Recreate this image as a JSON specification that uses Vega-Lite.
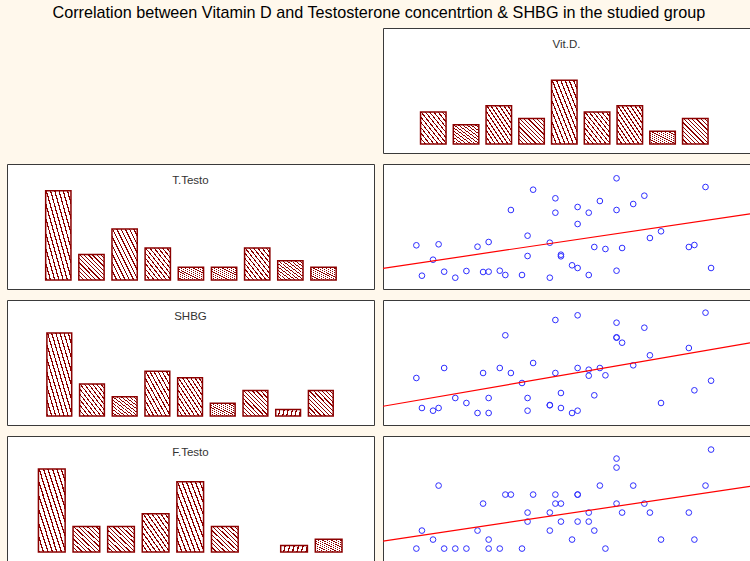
{
  "$schema": "https://vega.github.io/schema/vega-lite/v6.json",
  "background": "#FFF8EC",
  "padding": {"left": 6, "top": 5, "right": 0, "bottom": 0},
  "title": {"text": "Correlation between Vitamin D and Testosterone concentrtion & SHBG in the studied group", "fontSize": 16.2, "font": "Liberation Sans", "fontWeight": "normal", "color": "#000000", "anchor": "start", "dx": 46, "offset": 6, "baseline": "top"},
  "config": {
    "view": {"fill": "white", "stroke": "#3a3a3a", "strokeWidth": 1},
    "title": {"font": "Liberation Sans", "fontSize": 11.5, "fontWeight": "normal", "color": "#333333", "baseline": "middle", "offset": -22, "anchor": "middle"},
    "bar": {"stroke": "#8B0000", "strokeWidth": 1.5, "fill": {"gradient": "linear", "x1": 0, "y1": 1, "x2": 1, "y2": 0, "stops": [
      {"offset": 0, "color": "#8B0000"}, {"offset": 0.025, "color": "#8B0000"}, {"offset": 0.025, "color": "#ffffff"}, {"offset": 0.0833, "color": "#ffffff"},
      {"offset": 0.0833, "color": "#8B0000"}, {"offset": 0.1083, "color": "#8B0000"}, {"offset": 0.1083, "color": "#ffffff"}, {"offset": 0.1667, "color": "#ffffff"},
      {"offset": 0.1667, "color": "#8B0000"}, {"offset": 0.1917, "color": "#8B0000"}, {"offset": 0.1917, "color": "#ffffff"}, {"offset": 0.25, "color": "#ffffff"},
      {"offset": 0.25, "color": "#8B0000"}, {"offset": 0.275, "color": "#8B0000"}, {"offset": 0.275, "color": "#ffffff"}, {"offset": 0.3333, "color": "#ffffff"},
      {"offset": 0.3333, "color": "#8B0000"}, {"offset": 0.3583, "color": "#8B0000"}, {"offset": 0.3583, "color": "#ffffff"}, {"offset": 0.4167, "color": "#ffffff"},
      {"offset": 0.4167, "color": "#8B0000"}, {"offset": 0.4417, "color": "#8B0000"}, {"offset": 0.4417, "color": "#ffffff"}, {"offset": 0.5, "color": "#ffffff"},
      {"offset": 0.5, "color": "#8B0000"}, {"offset": 0.525, "color": "#8B0000"}, {"offset": 0.525, "color": "#ffffff"}, {"offset": 0.5833, "color": "#ffffff"},
      {"offset": 0.5833, "color": "#8B0000"}, {"offset": 0.6083, "color": "#8B0000"}, {"offset": 0.6083, "color": "#ffffff"}, {"offset": 0.6667, "color": "#ffffff"},
      {"offset": 0.6667, "color": "#8B0000"}, {"offset": 0.6917, "color": "#8B0000"}, {"offset": 0.6917, "color": "#ffffff"}, {"offset": 0.75, "color": "#ffffff"},
      {"offset": 0.75, "color": "#8B0000"}, {"offset": 0.775, "color": "#8B0000"}, {"offset": 0.775, "color": "#ffffff"}, {"offset": 0.8333, "color": "#ffffff"},
      {"offset": 0.8333, "color": "#8B0000"}, {"offset": 0.8583, "color": "#8B0000"}, {"offset": 0.8583, "color": "#ffffff"}, {"offset": 0.9167, "color": "#ffffff"},
      {"offset": 0.9167, "color": "#8B0000"}, {"offset": 0.9417, "color": "#8B0000"}, {"offset": 0.9417, "color": "#ffffff"}, {"offset": 1, "color": "#ffffff"}
    ]}},
    "point": {"shape": "circle", "filled": false, "color": "#2E2EFF", "size": 32, "strokeWidth": 1, "opacity": 1},
    "line": {"color": "#FF0000", "strokeWidth": 1.2}
  },
  "datasets": {
    "hist": [
      {"var": "Vit.D.", "bin": 1, "count": 5}, {"var": "Vit.D.", "bin": 2, "count": 3}, {"var": "Vit.D.", "bin": 3, "count": 6},
      {"var": "Vit.D.", "bin": 4, "count": 4}, {"var": "Vit.D.", "bin": 5, "count": 10}, {"var": "Vit.D.", "bin": 6, "count": 5},
      {"var": "Vit.D.", "bin": 7, "count": 6}, {"var": "Vit.D.", "bin": 8, "count": 2}, {"var": "Vit.D.", "bin": 9, "count": 4},
      {"var": "T.Testo", "bin": 1, "count": 14}, {"var": "T.Testo", "bin": 2, "count": 4}, {"var": "T.Testo", "bin": 3, "count": 8},
      {"var": "T.Testo", "bin": 4, "count": 5}, {"var": "T.Testo", "bin": 5, "count": 2}, {"var": "T.Testo", "bin": 6, "count": 2},
      {"var": "T.Testo", "bin": 7, "count": 5}, {"var": "T.Testo", "bin": 8, "count": 3}, {"var": "T.Testo", "bin": 9, "count": 2},
      {"var": "SHBG", "bin": 1, "count": 13}, {"var": "SHBG", "bin": 2, "count": 5}, {"var": "SHBG", "bin": 3, "count": 3},
      {"var": "SHBG", "bin": 4, "count": 7}, {"var": "SHBG", "bin": 5, "count": 6}, {"var": "SHBG", "bin": 6, "count": 2},
      {"var": "SHBG", "bin": 7, "count": 4}, {"var": "SHBG", "bin": 8, "count": 1}, {"var": "SHBG", "bin": 9, "count": 4},
      {"var": "F.Testo", "bin": 1, "count": 13}, {"var": "F.Testo", "bin": 2, "count": 4}, {"var": "F.Testo", "bin": 3, "count": 4},
      {"var": "F.Testo", "bin": 4, "count": 6}, {"var": "F.Testo", "bin": 5, "count": 11}, {"var": "F.Testo", "bin": 6, "count": 4},
      {"var": "F.Testo", "bin": 7, "count": 0}, {"var": "F.Testo", "bin": 8, "count": 1}, {"var": "F.Testo", "bin": 9, "count": 2}
    ],
    "pts": [
      {"vitd": 6, "tt": 4.37, "shbg": 47, "ft": 0},
      {"vitd": 7, "tt": 1.33, "shbg": 17, "ft": 2},
      {"vitd": 9, "tt": 2.93, "shbg": 14.3, "ft": 1},
      {"vitd": 10, "tt": 4.47, "shbg": 17, "ft": 7},
      {"vitd": 11, "tt": 1.73, "shbg": 57, "ft": 0},
      {"vitd": 13, "tt": 1.13, "shbg": 27, "ft": 0},
      {"vitd": 15, "tt": 1.8, "shbg": 22, "ft": 0},
      {"vitd": 17, "tt": 4.23, "shbg": 12, "ft": 2},
      {"vitd": 18, "tt": 1.7, "shbg": 52, "ft": 5},
      {"vitd": 19, "tt": 4.7, "shbg": 27, "ft": 1},
      {"vitd": 19, "tt": 1.73, "shbg": 12, "ft": 0},
      {"vitd": 21, "tt": 1.83, "shbg": 57, "ft": 0},
      {"vitd": 22, "tt": 1.4, "shbg": 89.7, "ft": 6},
      {"vitd": 23, "tt": 7.9, "shbg": 52, "ft": 6},
      {"vitd": 25, "tt": 1.4, "shbg": 42, "ft": 0},
      {"vitd": 26, "tt": 5.33, "shbg": 27, "ft": 4},
      {"vitd": 26, "tt": 3.3, "shbg": 14.3, "ft": 3},
      {"vitd": 27, "tt": 9.93, "shbg": 62, "ft": 6},
      {"vitd": 30, "tt": 4.63, "shbg": 20, "ft": 4},
      {"vitd": 30, "tt": 1.13, "shbg": 19.7, "ft": 2},
      {"vitd": 31, "tt": 9.07, "shbg": 105, "ft": 6},
      {"vitd": 31, "tt": 7.63, "shbg": 52, "ft": 5},
      {"vitd": 32, "tt": 3.43, "shbg": 32, "ft": 5},
      {"vitd": 32, "tt": 3.27, "shbg": 17, "ft": 3},
      {"vitd": 34, "tt": 2.37, "shbg": 12, "ft": 1},
      {"vitd": 35, "tt": 8.2, "shbg": 109.7, "ft": 6},
      {"vitd": 35, "tt": 6.5, "shbg": 57, "ft": 6},
      {"vitd": 35, "tt": 2.1, "shbg": 14.3, "ft": 3},
      {"vitd": 37, "tt": 7.63, "shbg": 55.3, "ft": 4},
      {"vitd": 37, "tt": 1.4, "shbg": 49.3, "ft": 3},
      {"vitd": 38, "tt": 4.2, "shbg": 29.7, "ft": 2},
      {"vitd": 39, "tt": 8.8, "shbg": 57, "ft": 7},
      {"vitd": 40, "tt": 4.0, "shbg": 49.7, "ft": 0},
      {"vitd": 42, "tt": 11.07, "shbg": 102.3, "ft": 10},
      {"vitd": 42, "tt": 7.9, "shbg": 87.3, "ft": 9},
      {"vitd": 42, "tt": 1.83, "shbg": 87.7, "ft": 5},
      {"vitd": 43, "tt": 4.1, "shbg": 82.3, "ft": 4},
      {"vitd": 45, "tt": 8.5, "shbg": 59.7, "ft": 7},
      {"vitd": 47, "tt": 9.33, "shbg": 97.3, "ft": 5},
      {"vitd": 48, "tt": 5.1, "shbg": 69.7, "ft": 4},
      {"vitd": 50, "tt": 5.77, "shbg": 22, "ft": 1},
      {"vitd": 55, "tt": 4.2, "shbg": 77, "ft": 4},
      {"vitd": 56, "tt": 4.4, "shbg": 34.7, "ft": 1},
      {"vitd": 58, "tt": 10.2, "shbg": 112.3, "ft": 7},
      {"vitd": 59, "tt": 2.1, "shbg": 44.3, "ft": 11}
    ]
  },
  "spacing": 9,
  "vconcat": [
    {
      "spacing": 7,
      "hconcat": [
        {"width": 367, "height": 125, "data": {"values": []}, "mark": "point", "encoding": {}, "view": {"fill": "transparent", "stroke": "transparent"}},
        {
          "width": 367, "height": 125,
          "data": {"name": "hist"},
          "transform": [{"filter": "datum.var === 'Vit.D.' && datum.count > 0"}],
          "title": {"text": "Vit.D."},
          "mark": {"type": "bar", "width": 25.5},
          "encoding": {
            "x": {"field": "bin", "type": "quantitative", "axis": null, "scale": {"domain": [-0.536, 10.67], "nice": false, "zero": false, "padding": 0}},
            "y": {"field": "count", "type": "quantitative", "axis": null, "scale": {"domain": [-1.41, 18.18], "nice": false, "zero": false, "padding": 0}},
            "y2": {"datum": 0}
          }
        }
      ]
    },
    {
      "spacing": 7,
      "hconcat": [
        {
          "width": 367, "height": 125,
          "data": {"name": "hist"},
          "transform": [{"filter": "datum.var === 'T.Testo' && datum.count > 0"}],
          "title": {"text": "T.Testo"},
          "mark": {"type": "bar", "width": 25.3},
          "encoding": {
            "x": {"field": "bin", "type": "quantitative", "axis": null, "scale": {"domain": [-0.548, 10.523], "nice": false, "zero": false, "padding": 0}},
            "y": {"field": "count", "type": "quantitative", "axis": null, "scale": {"domain": [-1.41, 18.18], "nice": false, "zero": false, "padding": 0}},
            "y2": {"datum": 0}
          }
        },
        {
          "width": 367, "height": 125,
          "data": {"name": "pts"},
          "encoding": {
            "x": {"field": "vitd", "type": "quantitative", "axis": null, "scale": {"domain": [0, 66], "nice": false, "zero": false}},
            "y": {"field": "tt", "type": "quantitative", "axis": null, "scale": {"domain": [0, 12.5], "nice": false, "zero": false}}
          },
          "layer": [
            {"mark": "point"},
            {"transform": [{"regression": "tt", "on": "vitd", "extent": [0, 66]}], "mark": {"type": "line", "clip": true}}
          ]
        }
      ]
    },
    {
      "spacing": 7,
      "hconcat": [
        {
          "width": 367, "height": 125,
          "data": {"name": "hist"},
          "transform": [{"filter": "datum.var === 'SHBG' && datum.count > 0"}],
          "title": {"text": "SHBG"},
          "mark": {"type": "bar", "width": 24.8},
          "encoding": {
            "x": {"field": "bin", "type": "quantitative", "axis": null, "scale": {"domain": [-0.6, 10.627], "nice": false, "zero": false, "padding": 0}},
            "y": {"field": "count", "type": "quantitative", "axis": null, "scale": {"domain": [-1.41, 18.18], "nice": false, "zero": false, "padding": 0}},
            "y2": {"datum": 0}
          }
        },
        {
          "width": 367, "height": 125,
          "data": {"name": "pts"},
          "encoding": {
            "x": {"field": "vitd", "type": "quantitative", "axis": null, "scale": {"domain": [0, 66], "nice": false, "zero": false}},
            "y": {"field": "shbg", "type": "quantitative", "axis": null, "scale": {"domain": [0, 125], "nice": false, "zero": false}}
          },
          "layer": [
            {"mark": "point"},
            {"transform": [{"regression": "shbg", "on": "vitd", "extent": [0, 66]}], "mark": {"type": "line", "clip": true}}
          ]
        }
      ]
    },
    {
      "spacing": 7,
      "hconcat": [
        {
          "width": 367, "height": 125,
          "data": {"name": "hist"},
          "transform": [{"filter": "datum.var === 'F.Testo' && datum.count > 0"}],
          "title": {"text": "F.Testo"},
          "mark": {"type": "bar", "width": 26.7},
          "encoding": {
            "x": {"field": "bin", "type": "quantitative", "axis": null, "scale": {"domain": [-0.294, 10.31], "nice": false, "zero": false, "padding": 0}},
            "y": {"field": "count", "type": "quantitative", "axis": null, "scale": {"domain": [-1.41, 18.18], "nice": false, "zero": false, "padding": 0}},
            "y2": {"datum": 0}
          }
        },
        {
          "width": 367, "height": 125,
          "data": {"name": "pts"},
          "encoding": {
            "x": {"field": "vitd", "type": "quantitative", "axis": null, "scale": {"domain": [0, 66], "nice": false, "zero": false}},
            "y": {"field": "ft", "type": "quantitative", "axis": null, "scale": {"domain": [-1.38, 12.51], "nice": false, "zero": false}}
          },
          "layer": [
            {"mark": "point"},
            {"transform": [{"regression": "ft", "on": "vitd", "extent": [0, 66]}], "mark": {"type": "line", "clip": true}}
          ]
        }
      ]
    }
  ]
}
